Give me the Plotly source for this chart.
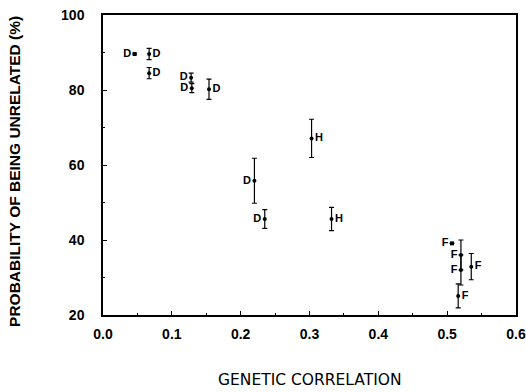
import plotly.graph_objects as go

# Data
corr = [0.046, 0.067, 0.067, 0.128, 0.129, 0.154, 0.303, 0.220, 0.235, 0.332,
        0.507, 0.520, 0.520, 0.535, 0.516]
prob = [89.6, 89.6, 84.5, 83.3, 80.5, 80.2, 67.1, 55.8, 45.6, 45.6,
        39.1, 36.0, 32.0, 32.9, 25.1]
err = [0.0, 1.5, 1.5, 1.2, 1.2, 2.7, 5.1, 6.0, 2.5, 3.1,
       0.0, 4.0, 4.0, 3.5, 3.2]
labels = ["D", "D", "D", "D", "D", "D", "H", "D", "D", "H",
          "F", "F", "F", "F", "F"]
label_side = ["left", "right", "right", "left", "left", "right", "right", "left", "left", "right",
              "left", "left", "left", "right", "right"]
marker_kind = ["square", "circle", "circle", "circle", "circle", "circle", "circle", "circle",
               "circle", "circle", "square", "circle", "circle", "circle", "circle"]

x_ticks = [0.0, 0.1, 0.2, 0.3, 0.4, 0.5, 0.6]
y_ticks = [20, 40, 60, 80, 100]

font_b = "Liberation Sans"

fig = go.Figure()
fig.add_trace(go.Scatter(
    x=corr, y=prob,
    mode="markers+text",
    text=labels,
    textposition=["middle " + s for s in label_side],
    textfont=dict(family=font_b, size=11, color="black", weight="bold"),
    marker=dict(symbol=marker_kind, size=4, color="black"),
    error_y=dict(type="data", array=err, visible=True, color="black",
                 thickness=1.2, width=2.5),
    showlegend=False,
    cliponaxis=False,
))

axis_common = dict(
    showline=True, linecolor="black", linewidth=1.5, mirror=True,
    ticks="inside", ticklen=4, tickcolor="black", tickwidth=1,
    showgrid=False, zeroline=False, automargin=False,
    ticklabeloverflow="allow",
    tickfont=dict(family=font_b, size=14, color="black", weight="bold"),
)

fig.update_layout(
    width=526, height=392,
    margin=dict(l=103, r=10, t=15, b=77),
    paper_bgcolor="white", plot_bgcolor="white",
    xaxis=dict(range=[0, 0.6], tickvals=x_ticks, ticktext=[f"{v:.1f}" for v in x_ticks],
               minor=dict(ticks="inside", ticklen=2, dtick=0.05, tickcolor="black"),
               ticklabelstandoff=5,
               **axis_common),
    yaxis=dict(range=[20, 100], tickvals=y_ticks,
               minor=dict(ticks="inside", ticklen=2, dtick=10, tickcolor="black"),
               ticklabelstandoff=14,
               **axis_common),
    annotations=[
        dict(text="GENETIC CORRELATION", xref="paper", yref="paper",
             x=0.5, y=-0.218, yanchor="middle", xanchor="center", showarrow=False,
             font=dict(family="DejaVu Sans", size=15.5, color="black")),
        dict(text="PROBABILITY OF BEING UNRELATED (%)", xref="paper", yref="paper",
             x=-0.213, y=0.477, xanchor="center", yanchor="middle", textangle=-90,
             showarrow=False,
             font=dict(family=font_b, size=15.5, color="black", weight="bold")),
    ],
)

fig.write_html("out.html", config={"displayModeBar": False},
               post_script="document.body.style.margin='0';")
